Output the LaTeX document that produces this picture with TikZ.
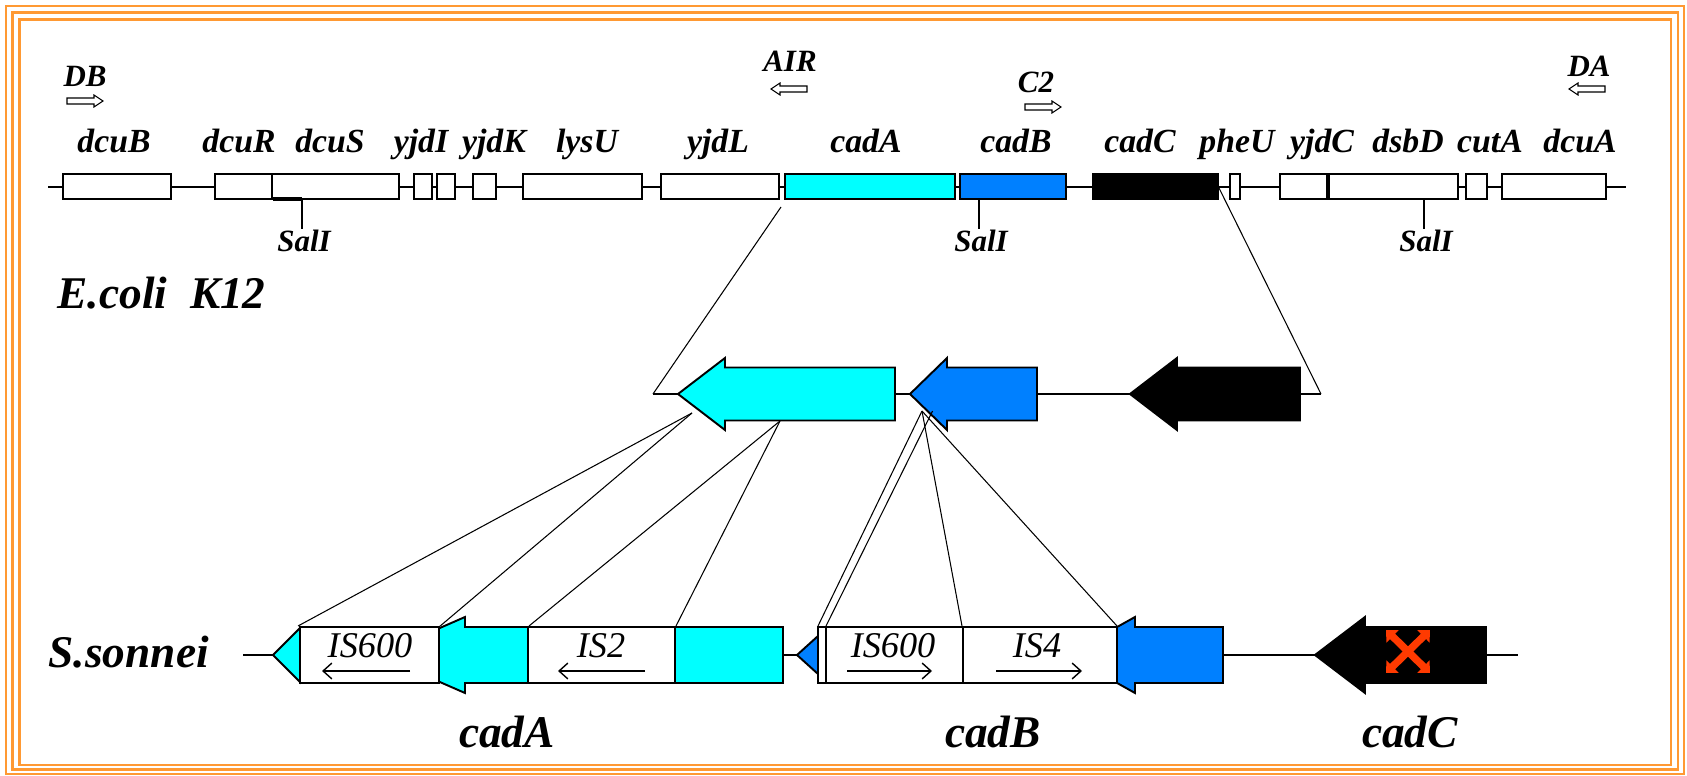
\documentclass[tikz,border=0pt]{standalone}
\usepackage{fontspec}
\setmainfont{Liberation Serif}
\usepackage{xcolor}
\usetikzlibrary{arrows.meta}
\definecolor{frameorange}{RGB}{255,153,51}
\definecolor{cadcyan}{RGB}{0,255,255}
\definecolor{cadblue}{RGB}{0,128,255}
\definecolor{knockred}{RGB}{255,58,0}

\begin{document}
\begin{tikzpicture}[x=0.01cm, y=-0.01cm,
  gene/.style={draw=black, line width=0.55pt, fill=white},
  chrom/.style={line width=0.55pt},
  link/.style={line width=0.3pt},
  primer/.style={draw=black, line width=0.3pt, fill=white},
  glabel/.style={font=\fontsize{9.6}{11}\selectfont\bfseries\itshape, anchor=base, inner sep=0pt},
  plabel/.style={font=\fontsize{8.8}{10}\selectfont\bfseries\itshape, anchor=base, inner sep=0pt},
  islabel/.style={font=\fontsize{10.3}{12}\selectfont\itshape, anchor=base, inner sep=0pt},
  biglabel/.style={font=\fontsize{12.9}{15}\selectfont\bfseries\itshape, anchor=base, inner sep=0pt},
  isarrow/.style={line width=0.4pt, -{Straight Barb[length=2.5pt, width=4.5pt]}},
  knock/.style={knockred, line width=2.1pt, {Triangle[length=2.6pt, width=4.8pt]}-{Triangle[length=2.6pt, width=4.8pt]}}]
\useasboundingbox (0,0) rectangle (1687,776);
% triple orange frame
\draw[frameorange, line width=0.75pt] (6,6) rectangle (1684,774);
\draw[frameorange, line width=0.65pt] (12.5,12.5) rectangle (1678,769.5);
\draw[frameorange, line width=0.65pt] (19.5,19.5) rectangle (1671,765);

% E. coli K12 chromosome
\draw[chrom] (48,187) -- (1626,187);
\foreach \a/\b/\c in {63/171/white, 215/272/white, 272/399/white, 414/432/white,
    437/455/white, 473/496/white, 523/642/white, 661/779/white, 785/955/cadcyan,
    960/1066/cadblue, 1093/1218/black, 1230/1240/white, 1280/1327/white,
    1329/1458/white, 1466/1487/white, 1502/1606/white}
  \draw[gene, fill=\c] (\a,174) rectangle (\b,199);
\draw[line width=1pt] (273,199) -- (302,199);
\foreach \x/\t in {114/dcuB, 239/dcuR, 330/dcuS, 421/yjdI, 494/yjdK, 587/lysU,
    718/yjdL, 866/cadA, 1016/cadB, 1140/cadC, 1237/pheU, 1322/yjdC, 1408/dsbD,
    1490/cutA, 1580/dcuA}
  \node[glabel] (lab-\t) at (\x,153) {\t};

% primers
\foreach \x/\y/\d in {85/101/1, 789/89/-1, 1043/107/1, 1587/89/-1}
  \draw[primer] (\x-18*\d,\y-3) -- (\x+9*\d,\y-3) -- (\x+9*\d,\y-6) -- (\x+18*\d,\y)
    -- (\x+9*\d,\y+6) -- (\x+9*\d,\y+3) -- (\x-18*\d,\y+3) -- cycle;
\node[plabel] (DB) at (85,87) {DB};
\node[plabel] (AIR) at (790,72) {AIR};
\node[plabel] (C2) at (1036,93) {C2};
\node[plabel] (DA) at (1589,77) {DA};

% SalI sites
\foreach \x/\n in {302/1, 979/2, 1424/3} {
  \draw[chrom] (\x,199) -- (\x,229);
  \node[plabel] (sal\n) at (\x+2,252) {SalI};
}
\node[biglabel, anchor=base west] (ecoli) at (57,308) {E.coli\ \ K12};

% cad locus, enlarged
\coordinate (topL) at (781,207);
\coordinate (topR) at (1219,188);
\coordinate (midL) at (653,394);
\coordinate (midR) at (1321,394);
\draw[link] (topL) -- (midL);
\draw[link] (topR) -- (midR);
\draw[chrom] (midL) -- (midR);
\foreach \t/\h/\e/\c in {678/725/895/cadcyan, 910/947/1037/cadblue, 1130/1177/1300/black}
  \draw[gene, fill=\c] (\t,394) -- (\h,358) -- (\h,367.5) -- (\e,367.5) -- (\e,420.5)
    -- (\h,420.5) -- (\h,430) -- cycle;

% S. sonnei
\node[biglabel, anchor=base west] (sson) at (48,667) {S.sonnei};
\draw[chrom] (243,655) -- (1518,655);
\foreach \t/\h/\e/\c in {378/465/528/cadcyan, 1067/1135/1223/cadblue, 1315/1365/1486/black}
  \draw[gene, fill=\c] (\t,655) -- (\h,617) -- (\h,627) -- (\e,627) -- (\e,683)
    -- (\h,683) -- (\h,693) -- cycle;
\draw[gene, fill=cadcyan] (273,655) -- (300,628) -- (300,682) -- cycle;
\draw[gene, fill=cadblue] (797,655) -- (818,636) -- (818,674) -- cycle;
\draw[gene] (300,627) rectangle (439,683);
\draw[gene] (528,627) rectangle (675,683);
\draw[gene, fill=cadcyan] (675,627) rectangle (783,683);
\draw[gene] (818,627) rectangle (963,683);
\draw[gene] (826,627) -- (826,683);
\draw[gene] (963,627) rectangle (1117,683);
\node[islabel] (is600a) at (370,657) {IS600};
\node[islabel] (is2) at (601,657) {IS2};
\node[islabel] (is600b) at (893,657) {IS600};
\node[islabel] (is4) at (1037,657) {IS4};
\draw[isarrow] (410,671) -- (322,671);
\draw[isarrow] (645,671) -- (558,671);
\draw[isarrow] (847,671) -- (932,671);
\draw[isarrow] (996,671) -- (1082,671);
% cadC knocked out
\coordinate (xa) at (1386,630);
\coordinate (xb) at (1430,673);
\coordinate (xc) at (1430,630);
\coordinate (xd) at (1386,673);
\draw[knock] (xa) -- (xb);
\draw[knock] (xc) -- (xd);
\node[biglabel] (cadAlab) at (507,747) {cadA};
\node[biglabel] (cadBlab) at (993,747) {cadB};
\node[biglabel] (cadClab) at (1410,747) {cadC};

% insertion sites
\coordinate (aHead) at (692,413);
\coordinate (aBody) at (780,421);
\coordinate (bHead) at (922,411);
\draw[link] (aHead) -- (298,626);
\draw[link] (aHead) -- (439,627);
\draw[link] (aBody) -- (529,626);
\draw[link] (aBody) -- (676,626);
\draw[link] (bHead) -- (818,626);
\draw[link] ([xshift=3]bHead) -- (826,626);
\draw[link] (bHead) -- (962,626);
\draw[link] (bHead) -- (1117,626);
\end{tikzpicture}
\end{document}
